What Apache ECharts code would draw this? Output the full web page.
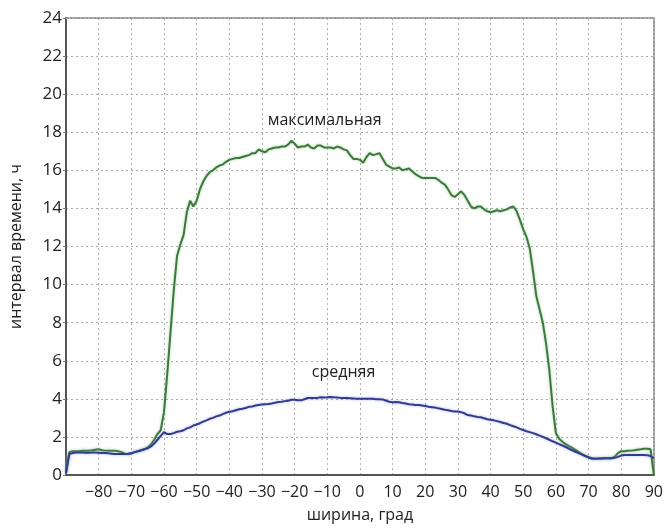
<!DOCTYPE html>
<html>
<head>
<meta charset="utf-8">
<script src="https://cdn.jsdelivr.net/npm/echarts@6/dist/echarts.min.js"></script>
<style>
html,body{margin:0;padding:0;background:#fff;}
#chart{width:666px;height:528px;}
</style>
</head>
<body>
<div id="chart"></div>
<script>
// latitude, degrees (-90..90, step 1)
const latitudes = [];
for (let i = -90; i <= 90; i++) latitudes.push(i);

// maximum interval, hours
const maxValues = [
  0.1, 1.2, 1.25, 1.25, 1.25, 1.27, 1.28, 1.28, 1.3, 1.33, // -90..-81
  1.35, 1.3, 1.28, 1.27, 1.27, 1.28, 1.25, 1.2, 1.12, 1.1, // -80..-71
  1.12, 1.2, 1.25, 1.3, 1.35, 1.45, 1.6, 1.85, 2.15, 2.35, // -70..-61
  3.3, 5.3, 7.5, 9.7, 11.5, 12.1, 12.6, 13.8, 14.4, 14.1, // -60..-51
  14.4, 15.0, 15.4, 15.7, 15.9, 16.0, 16.15, 16.25, 16.3, 16.45, // -50..-41
  16.55, 16.6, 16.65, 16.65, 16.7, 16.75, 16.8, 16.9, 16.9, 17.1, // -40..-31
  17.0, 16.95, 17.1, 17.15, 17.2, 17.2, 17.25, 17.25, 17.35, 17.55, // -30..-21
  17.4, 17.2, 17.25, 17.25, 17.35, 17.2, 17.15, 17.3, 17.3, 17.2, // -20..-11
  17.2, 17.2, 17.15, 17.25, 17.2, 17.1, 17.05, 16.8, 16.6, 16.6, // -10..-1
  16.55, 16.4, 16.7, 16.9, 16.8, 16.85, 16.9, 16.6, 16.3, 16.2, // 0..9
  16.1, 16.1, 16.15, 16.0, 16.05, 16.1, 15.95, 15.8, 15.7, 15.6, // 10..19
  15.6, 15.6, 15.6, 15.6, 15.5, 15.35, 15.25, 15.0, 14.7, 14.6, // 20..29
  14.75, 14.9, 14.7, 14.4, 14.1, 14.0, 14.1, 14.1, 13.95, 13.85, // 30..39
  13.8, 13.85, 13.9, 13.85, 13.9, 13.95, 14.05, 14.1, 13.85, 13.4, // 40..49
  12.9, 12.5, 11.9, 10.7, 9.4, 8.7, 8.0, 6.9, 5.5, 3.6, // 50..59
  2.2, 1.9, 1.75, 1.62, 1.52, 1.42, 1.32, 1.2, 1.1, 1.0, // 60..69
  0.92, 0.85, 0.85, 0.86, 0.87, 0.88, 0.88, 0.88, 0.95, 1.15, // 70..79
  1.25, 1.25, 1.27, 1.28, 1.3, 1.33, 1.35, 1.38, 1.38, 1.35, // 80..89
  0.0 // 90
];

// mean interval, hours
const meanValues = [
  0.1, 1.1, 1.15, 1.18, 1.18, 1.18, 1.17, 1.17, 1.18, 1.18, // -90..-81
  1.17, 1.16, 1.15, 1.14, 1.12, 1.1, 1.1, 1.1, 1.1, 1.12, // -80..-71
  1.15, 1.2, 1.25, 1.3, 1.35, 1.4, 1.5, 1.65, 1.85, 2.05, // -70..-61
  2.25, 2.15, 2.15, 2.2, 2.27, 2.3, 2.35, 2.45, 2.5, 2.6, // -60..-51
  2.65, 2.72, 2.8, 2.87, 2.95, 3.0, 3.08, 3.12, 3.2, 3.27, // -50..-41
  3.32, 3.35, 3.4, 3.45, 3.48, 3.52, 3.58, 3.6, 3.65, 3.68, // -40..-31
  3.7, 3.72, 3.73, 3.76, 3.8, 3.83, 3.85, 3.88, 3.9, 3.95, // -30..-21
  3.95, 3.92, 3.92, 3.98, 4.05, 4.05, 4.05, 4.05, 4.08, 4.07, // -20..-11
  4.08, 4.1, 4.08, 4.07, 4.05, 4.05, 4.04, 4.03, 4.02, 4.0, // -10..-1
  4.0, 4.0, 4.0, 4.0, 4.0, 3.98, 3.98, 3.97, 3.9, 3.85, // 0..9
  3.82, 3.83, 3.82, 3.78, 3.75, 3.72, 3.7, 3.68, 3.68, 3.65, // 10..19
  3.62, 3.58, 3.56, 3.54, 3.5, 3.47, 3.43, 3.4, 3.36, 3.33, // 20..29
  3.33, 3.3, 3.24, 3.15, 3.12, 3.08, 3.05, 3.03, 2.98, 2.93, // 30..39
  2.9, 2.87, 2.83, 2.78, 2.73, 2.69, 2.62, 2.56, 2.5, 2.42, // 40..49
  2.36, 2.3, 2.25, 2.2, 2.14, 2.07, 2.0, 1.93, 1.85, 1.77, // 50..59
  1.7, 1.62, 1.55, 1.47, 1.38, 1.3, 1.22, 1.15, 1.07, 1.0, // 60..69
  0.93, 0.88, 0.86, 0.87, 0.87, 0.88, 0.88, 0.88, 0.9, 0.95, // 70..79
  1.02, 1.05, 1.05, 1.05, 1.05, 1.05, 1.05, 1.05, 1.04, 1.0, // 80..89
  0.88 // 90
];

const xTicks = [-90, 90, 10];
const yTicks = [0, 24, 2];
const labelMax = ['максимальная', -10.8, 18.6];
const labelMean = ['средняя', -5, 5.4];

const font = '"Open Sans", "Noto Sans", sans-serif';
const textColor = '#222';

const chart = echarts.init(document.getElementById('chart'), null, {renderer: 'canvas'});
const zip = (xs, ys) => xs.map((x, i) => [x, ys[i]]);

chart.setOption({
  animation: false,
  backgroundColor: '#fff',
  grid: {left: 64, right: 9, top: 18, bottom: 53, containLabel: false},
  xAxis: [{
    type: 'value', min: xTicks[0], max: xTicks[1], interval: xTicks[2],
    name: 'ширина, град', nameLocation: 'middle', nameGap: 32,
    nameTextStyle: {fontFamily: font, fontSize: 16, color: textColor},
    axisLine: {show: true, onZero: false, lineStyle: {color: '#555', width: 2}},
    axisTick: {show: false},
    axisLabel: {
      fontFamily: font, fontSize: 16, color: textColor, margin: 9,
      formatter: v => v === -90 ? '' : String(v).replace('-', '\u2212')
    },
    splitLine: {show: true, lineStyle: {color: '#aaa', width: 1, type: [2, 3]}}
  }, {
    type: 'value', position: 'top', min: xTicks[0], max: xTicks[1], interval: xTicks[2],
    axisLine: {show: true, onZero: false, lineStyle: {color: '#999', width: 2, type: [2, 2]}},
    axisTick: {show: false}, axisLabel: {show: false}, splitLine: {show: false}
  }],
  yAxis: [{
    type: 'value', min: yTicks[0], max: yTicks[1], interval: yTicks[2],
    name: 'интервал времени, ч', nameLocation: 'middle', nameGap: 42,
    nameTextStyle: {fontFamily: font, fontSize: 16, color: textColor},
    axisLine: {show: true, onZero: false, lineStyle: {color: '#555', width: 2}},
    axisTick: {show: true, length: 3, lineStyle: {color: '#777'}},
    axisLabel: {fontFamily: font, fontSize: 17, color: textColor, margin: 4},
    splitLine: {show: true, lineStyle: {color: '#aaa', width: 1, type: [2, 3]}}
  }, {
    type: 'value', position: 'right', min: yTicks[0], max: yTicks[1], interval: yTicks[2],
    axisLine: {show: true, onZero: false, lineStyle: {color: '#999', width: 2, type: [2, 2]}},
    axisTick: {show: false}, axisLabel: {show: false}, splitLine: {show: false}
  }],
  series: [{
    name: 'максимальная', type: 'line', data: zip(latitudes, maxValues),
    showSymbol: false, symbol: 'none', z: 3,
    lineStyle: {color: '#3c7a3a', width: 2, shadowColor: 'rgba(120,180,120,0.6)', shadowBlur: 3},
    markPoint: {
      symbol: 'circle', symbolSize: 0,
      label: {show: true, position: 'inside', fontFamily: font, fontSize: 16, color: textColor, formatter: p => p.name},
      data: [{name: labelMax[0], coord: [labelMax[1], labelMax[2]]}]
    }
  }, {
    name: 'средняя', type: 'line', data: zip(latitudes, meanValues),
    showSymbol: false, symbol: 'none', z: 4,
    lineStyle: {color: '#353b8c', width: 2, shadowColor: 'rgba(120,140,220,0.6)', shadowBlur: 3},
    markPoint: {
      symbol: 'circle', symbolSize: 0,
      label: {show: true, position: 'inside', fontFamily: font, fontSize: 16, color: textColor, formatter: p => p.name},
      data: [{name: labelMean[0], coord: [labelMean[1], labelMean[2]]}]
    }
  }]
});
</script>
</body>
</html>
